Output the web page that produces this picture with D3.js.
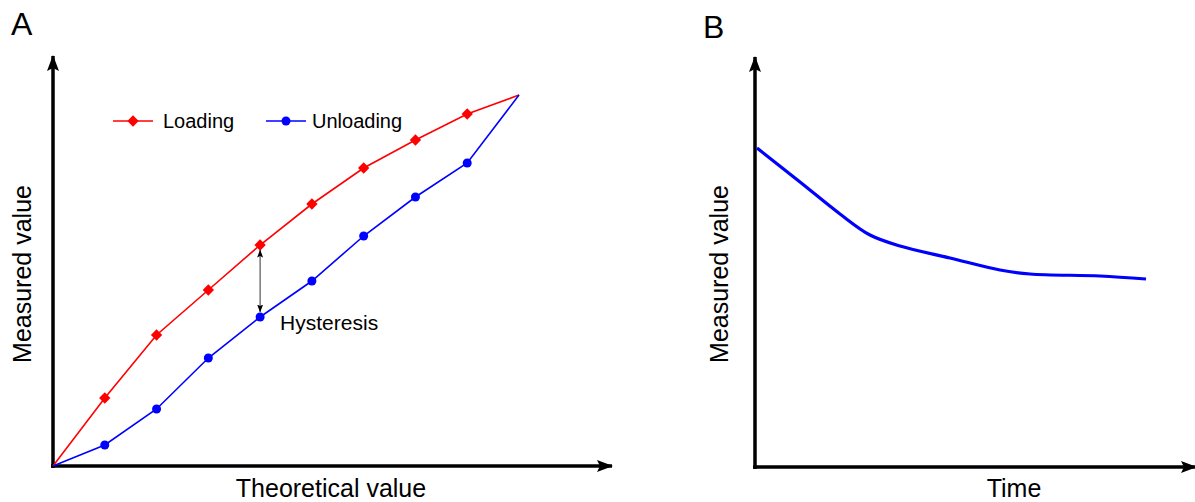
<!DOCTYPE html>
<meta charset="utf-8">
<style>
body { margin: 0; background: #fff; }
text { font-family: "Liberation Sans", Arial, sans-serif; fill: #000; }
.axisline { stroke: #000; stroke-width: 3.5px; fill: none; }
.loading { fill: none; stroke: #f00; stroke-width: 1.6px; }
.unloading { fill: none; stroke: #00f; stroke-width: 1.6px; }
.decay { fill: none; stroke: #00f; stroke-width: 3.2px; }
</style>
<body>
<svg width="1195" height="502"></svg>
<script src="https://d3js.org/d3.v7.min.js"></script>
<script>
// panel A data (theoretical steps vs measured)
var steps = [0, 1, 2, 3, 4, 5, 6, 7, 8, 9];
var loading = [0, 68, 131, 176, 221, 262, 298, 326, 352, 371];
var unloading = [0, 21, 57, 108, 149, 185, 230, 269, 303, 371];
var seriesNames = ["Loading", "Unloading"];

// panel B data (time vs measured)
var time = [2, 45, 85, 115, 145, 195, 245, 275, 345, 391];
var measured = [319, 285, 253, 232, 221, 209, 197, 193, 191, 188];

var svg = d3.select("svg");

var defs = svg.append("defs");
defs.append("marker")
    .attr("id", "bigarrow")
    .attr("viewBox", "0 0 16 12")
    .attr("refX", 15).attr("refY", 6)
    .attr("markerWidth", 16).attr("markerHeight", 12)
    .attr("markerUnits", "userSpaceOnUse")
    .attr("orient", "auto")
  .append("path")
    .attr("d", "M0,0 L16,6 L0,12 L3,6 Z")
    .attr("fill", "#000");
defs.append("marker")
    .attr("id", "smallarrow")
    .attr("viewBox", "0 0 8 6")
    .attr("refX", 7.5).attr("refY", 3)
    .attr("markerWidth", 8).attr("markerHeight", 6)
    .attr("markerUnits", "userSpaceOnUse")
    .attr("orient", "auto-start-reverse")
  .append("path")
    .attr("d", "M0,0 L8,3 L0,6 L1.5,3 Z")
    .attr("fill", "#000");

// ---------- Panel A ----------
var xA = d3.scaleLinear().domain([0, 9]).range([53, 519]);
var yA = d3.scaleLinear().domain([0, 410]).range([466, 56]);

svg.append("line").attr("class", "axisline")
    .attr("x1", xA(0) - 2).attr("y1", yA(0))
    .attr("x2", 612).attr("y2", yA(0))
    .attr("marker-end", "url(#bigarrow)");
svg.append("line").attr("class", "axisline")
    .attr("x1", xA(0)).attr("y1", yA(0) + 2)
    .attr("x2", xA(0)).attr("y2", yA(410))
    .attr("marker-end", "url(#bigarrow)");

var lineA = d3.line()
    .x(function(d, i) { return xA(steps[i]); })
    .y(function(d) { return yA(d); });

svg.append("path").datum(loading).attr("class", "loading").attr("d", lineA);
svg.append("path").datum(unloading).attr("class", "unloading").attr("d", lineA);

var diamond = d3.symbol().type(d3.symbolSquare).size(64);
svg.selectAll(".lpt")
    .data(loading.slice(1, 9))
    .enter().append("path")
    .attr("class", "lpt")
    .attr("d", diamond)
    .attr("fill", "#f00")
    .attr("transform", function(d, i) { return "translate(" + xA(steps[i + 1]) + "," + yA(d) + ") rotate(45)"; });

svg.selectAll(".upt")
    .data(unloading.slice(1, 9))
    .enter().append("circle")
    .attr("class", "upt")
    .attr("r", 4.5)
    .attr("fill", "#00f")
    .attr("cx", function(d, i) { return xA(steps[i + 1]); })
    .attr("cy", function(d) { return yA(d); });

// hysteresis arrow at step 4
svg.append("line")
    .attr("x1", xA(4)).attr("y1", yA(loading[4]) + 5)
    .attr("x2", xA(4)).attr("y2", yA(unloading[4]) - 5)
    .attr("stroke", "#555").attr("stroke-width", 1.2)
    .attr("marker-start", "url(#smallarrow)")
    .attr("marker-end", "url(#smallarrow)");
svg.append("text")
    .attr("x", xA(4) + 20).attr("y", yA(unloading[4]) + 13)
    .style("font-size", "21px")
    .text("Hysteresis");

// legend
var legend = svg.append("g").attr("transform", "translate(113,121)");
var items = legend.selectAll("g")
    .data(seriesNames)
    .enter().append("g")
    .attr("transform", function(d, i) { return "translate(" + (i * 153) + ",0)"; });
items.append("line")
    .attr("x1", 0).attr("x2", 40).attr("y1", 0).attr("y2", 0)
    .attr("stroke", function(d, i) { return i ? "#00f" : "#f00"; })
    .attr("stroke-width", 1.6);
items.filter(function(d, i) { return i === 0; }).append("path")
    .attr("d", diamond)
    .attr("fill", "#f00")
    .attr("transform", "translate(20,0) rotate(45)");
items.filter(function(d, i) { return i === 1; }).append("circle")
    .attr("cx", 20).attr("r", 4.5).attr("fill", "#00f");
items.append("text")
    .attr("x", function(d, i) { return i ? 46 : 50; })
    .attr("y", 7)
    .style("font-size", "20px")
    .text(function(d) { return d; });

svg.append("text").attr("x", 331).attr("y", 497)
    .attr("text-anchor", "middle").style("font-size", "25px")
    .text("Theoretical value");
svg.append("text")
    .attr("transform", "translate(31,274) rotate(-90)")
    .attr("text-anchor", "middle").style("font-size", "25px")
    .text("Measured value");
svg.append("text").attr("x", 11).attr("y", 35)
    .style("font-size", "32px").text("A");

// ---------- Panel B ----------
var xB = d3.scaleLinear().domain([0, 440]).range([755, 1195]);
var yB = d3.scaleLinear().domain([0, 410]).range([467, 57]);

svg.append("line").attr("class", "axisline")
    .attr("x1", xB(0) - 2).attr("y1", yB(0))
    .attr("x2", 1196).attr("y2", yB(0))
    .attr("marker-end", "url(#bigarrow)");
svg.append("line").attr("class", "axisline")
    .attr("x1", xB(0)).attr("y1", yB(0) + 2)
    .attr("x2", xB(0)).attr("y2", yB(410))
    .attr("marker-end", "url(#bigarrow)");

var lineB = d3.line()
    .curve(d3.curveCatmullRom.alpha(0.5))
    .x(function(d, i) { return xB(time[i]); })
    .y(function(d) { return yB(d); });
svg.append("path").datum(measured).attr("class", "decay").attr("d", lineB);

svg.append("text").attr("x", 1014).attr("y", 497)
    .attr("text-anchor", "middle").style("font-size", "25px")
    .text("Time");
svg.append("text")
    .attr("transform", "translate(728,274) rotate(-90)")
    .attr("text-anchor", "middle").style("font-size", "25px")
    .text("Measured value");
svg.append("text").attr("x", 703).attr("y", 38)
    .style("font-size", "32px").text("B");
</script>
